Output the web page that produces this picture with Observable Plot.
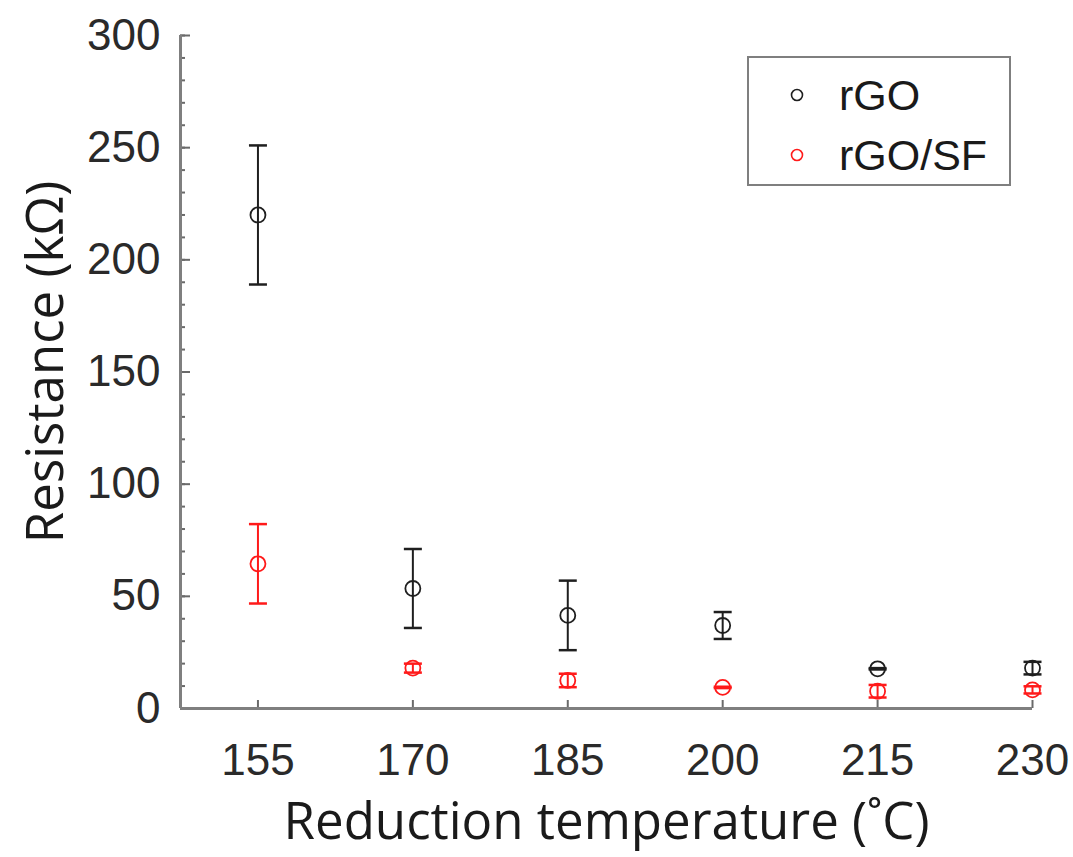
<!DOCTYPE html>
<html>
<head>
<meta charset="utf-8">
<script src="https://cdn.jsdelivr.net/npm/d3@7"></script>
<script src="https://cdn.jsdelivr.net/npm/@observablehq/plot@0.6"></script>
<style>
  body { margin: 0; background: #fff; }
  #wrap { position: relative; width: 1073px; height: 857px; }
  #legend { position: absolute; left: 747px; top: 56px; width: 260px; height: 126px;
    border: 2px solid #7f7f7f; background: #fff; font-family: "Liberation Sans", Arial, sans-serif; }
  .row { position: absolute; left: 0; height: 50px; }
  .row svg { position: absolute; left: 38px; top: 0; }
  .row span { position: absolute; left: 90px; font-size: 43px; color: #1a1a1a; white-space: nowrap; line-height: 50px; top: 0; }
</style>
</head>
<body>
<div id="wrap"></div>
<script>
// ---- data ----
const temps = [155, 170, 185, 200, 215, 230];
const rgoMean = [220, 53.5, 41.5, 37, 17.7, 18];
const rgoErr  = [31, 17.6, 15.5, 6, 0.3, 2.8];
const sfMean  = [64.5, 18, 12.5, 9.4, 7.7, 8.3];
const sfErr   = [17.7, 2, 3, 0.3, 2.8, 1.6];
const seriesNames = ["rGO", "rGO/SF"];
const seriesColors = ["#1f1f1f", "#ff1a1a"];
const xTicks = [155, 170, 185, 200, 215, 230];
const yMajor = [0, 50, 100, 150, 200, 250, 300];
const yMinor = d3.range(0, 301, 10);
const xDomain = [147.5, 230];
const yDomain = [0, 300];

const rows = [];
temps.forEach((t, i) => {
  rows.push({series: seriesNames[0], x: t, y: rgoMean[i], lo: rgoMean[i] - rgoErr[i], hi: rgoMean[i] + rgoErr[i]});
  rows.push({series: seriesNames[1], x: t, y: sfMean[i], lo: sfMean[i] - sfErr[i], hi: sfMean[i] + sfErr[i]});
});

const capSymbol = {
  draw(context, size) {
    const w = Math.sqrt(size / Math.PI);
    context.moveTo(-w, 0);
    context.lineTo(w, 0);
  }
};

const tickFont = "'Liberation Sans', Arial, sans-serif";
const titleFont = "'Open Sans', 'Noto Sans', sans-serif";

const chart = Plot.plot({
  width: 1073,
  height: 857,
  marginLeft: 180,
  marginRight: 41,
  marginTop: 35,
  marginBottom: 149,
  style: {background: "#fff", color: "#2a2a2a"},
  x: {domain: xDomain},
  y: {domain: yDomain},
  color: {domain: seriesNames, range: seriesColors},
  marks: [
    // minor & major y ticks (inward)
    Plot.axisY(yMinor, {tickSize: 5, dx: 5, tickFormat: () => "", label: null, stroke: "#6a6a6a", strokeWidth: 2}),
    Plot.axisY(yMajor, {tickSize: 10, dx: 10, tickFormat: () => "", label: null, stroke: "#6a6a6a", strokeWidth: 2}),
    Plot.axisY(yMajor, {tickSize: 0, tickPadding: 20, fontSize: 44, fontFamily: tickFont, label: null, fill: "#2a2a2a"}),
    // x ticks (inward)
    Plot.axisX(xTicks, {tickSize: 8, dy: -8, tickFormat: () => "", label: null, stroke: "#6a6a6a", strokeWidth: 2}),
    Plot.axisX(xTicks, {tickSize: 0, tickPadding: 35, fontSize: 44, fontFamily: tickFont, label: null, fill: "#2a2a2a", tickFormat: d => String(d)}),
    // axis lines
    Plot.ruleY([yDomain[0]], {stroke: "#7f7f7f", strokeWidth: 3}),
    Plot.ruleX([xDomain[0]], {stroke: "#7f7f7f", strokeWidth: 3}),
    // error bars
    Plot.ruleX(rows, {x: "x", y1: "lo", y2: "hi", stroke: "series", strokeWidth: 2}),
    Plot.dot(rows, {x: "x", y: "hi", symbol: capSymbol, r: 9, stroke: "series", strokeWidth: 2.5}),
    Plot.dot(rows, {x: "x", y: "lo", symbol: capSymbol, r: 9, stroke: "series", strokeWidth: 2.5}),
    // markers
    Plot.dot(rows, {x: "x", y: "y", r: 7.5, stroke: "series", strokeWidth: 1.8, fill: "none"}),
    // axis titles
    Plot.text(["Resistance (kΩ)"], {frameAnchor: "left", textAnchor: "middle", rotate: -90, dx: -134, dy: -10, fontSize: 51, fontFamily: titleFont, fill: "#1a1a1a"}),
    Plot.text(["Reduction temperature (˚C)"], {frameAnchor: "bottom", dy: 130, fontSize: 51, fontFamily: titleFont, fill: "#1a1a1a"})
  ]
});

const wrap = document.getElementById("wrap");
wrap.appendChild(chart);

const legend = document.createElement("div");
legend.id = "legend";
seriesNames.forEach((name, i) => {
  const row = document.createElement("div");
  row.className = "row";
  row.style.top = (12 + i * 60) + "px";
  row.style.width = "100%";
  row.innerHTML = `<svg width="20" height="50"><circle cx="10" cy="25" r="5.5" fill="none" stroke="${seriesColors[i]}" stroke-width="1.6"/></svg><span>${name}</span>`;
  legend.appendChild(row);
});
wrap.appendChild(legend);
</script>
</body>
</html>
